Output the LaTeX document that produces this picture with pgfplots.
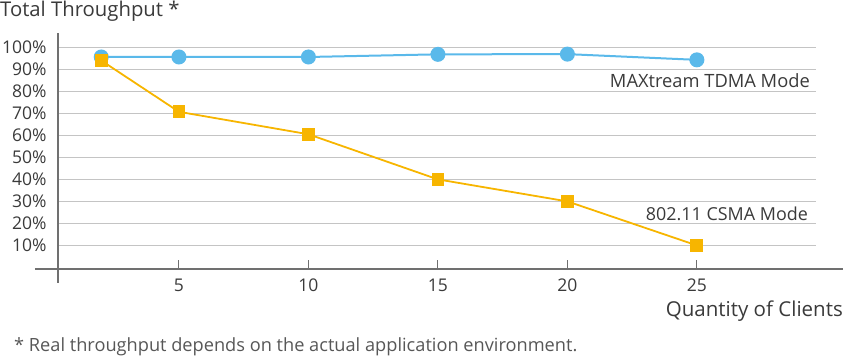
\documentclass[border=0pt]{standalone}
\usepackage{pgfplots}
\pgfplotsset{compat=1.18}
\usepackage{fontspec}
\setmainfont{Open Sans}
\definecolor{cblue}{HTML}{5AB9EA}
\definecolor{corange}{HTML}{F7B500}
\definecolor{cgrid}{HTML}{C4C4C4}
\definecolor{caxis}{HTML}{707070}
\definecolor{ctext}{HTML}{3A3A3A}
\begin{document}
\begin{tikzpicture}[x=1pt,y=1pt]
\path[use as bounding box] (0,0) rectangle (844,356);
\begin{axis}[
  at={(58pt,87pt)}, anchor=south west,
  scale only axis, width=758pt, height=221.7pt,
  xmin=0.33, xmax=29.6, ymin=-0.7, ymax=100,
  axis x line*=bottom, axis y line*=left,
  x axis line style={draw=caxis, line width=1.2pt, -, shorten <=-23pt, shorten >=-27pt},
  y axis line style={draw=caxis, line width=1.2pt, -, shorten <=-14pt, shorten >=-14pt},
  xtick={5,10,15,20,25},
  ytick={10,20,...,100},
  yticklabel={\pgfmathprintnumber{\tick}\%},
  /pgf/number format/assume math mode=true,
  ymajorgrids, grid style={draw=cgrid, line width=1.2pt},
  tick align=inside,
  major tick length=9pt,
  xtick style={draw=caxis, line width=1pt},
  ytick style={draw=none},
  tick label style={font=\fontsize{17.5}{17.5}\selectfont, text=ctext},
  xticklabel style={yshift=-6pt},
  yticklabel style={xshift=-8pt},
  clip=false,
]
\addplot[color=cblue, line width=2pt, mark=*, mark size=6.5pt, mark options={fill=cblue, draw=cblue}]
  coordinates {(2,95.6) (5,95.6) (10,95.6) (15,96.8) (20,96.9) (25,94.3)};
\addplot[color=corange, line width=1.8pt, mark=square*, mark size=5.5pt, mark options={fill=corange, draw=corange}]
  coordinates {(2,94) (5,70.7) (10,60.5) (15,40) (20,30) (25,10)};
\end{axis}
\node[anchor=base west, inner sep=0, text=ctext, font=\fontsize{20.3}{20.3}\selectfont] at (0,339) {Total Throughput *};
\node[anchor=base east, inner sep=0, text=ctext, font=\fontsize{20.5}{20.5}\selectfont] at (843,39) {Quantity of Clients};
\node[anchor=base east, inner sep=0, text=ctext, font=\fontsize{18.3}{18.3}\selectfont] at (810,268) {MAXtream TDMA Mode};
\node[anchor=base east, inner sep=0, text=ctext, font=\fontsize{17.9}{17.9}\selectfont] at (808,135.3) {802.11 CSMA Mode};
\node[anchor=base west, inner sep=0, text=ctext!85, font=\fontsize{18.2}{18.2}\selectfont] at (14,4) {* Real throughput depends on the actual application environment.};
\end{tikzpicture}
\end{document}
